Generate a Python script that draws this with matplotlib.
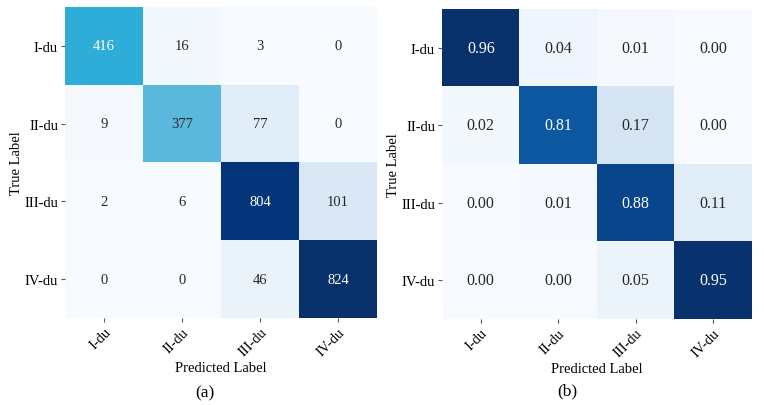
import numpy as np
import matplotlib
matplotlib.use("Agg")
import matplotlib.pyplot as plt
from matplotlib.colors import LinearSegmentedColormap, Normalize

labels = ["I-du", "II-du", "III-du", "IV-du"]
counts = [[416, 16, 3, 0],
          [9, 377, 77, 0],
          [2, 6, 804, 101],
          [0, 0, 46, 824]]
normalized = [[0.96, 0.04, 0.01, 0.00],
              [0.02, 0.81, 0.17, 0.00],
              [0.00, 0.01, 0.88, 0.11],
              [0.00, 0.00, 0.05, 0.95]]

plt.rcParams['font.family'] = ['Liberation Serif', 'DejaVu Serif']

W, H = 764, 406
fig = plt.figure(figsize=(W / 100, H / 100), dpi=100)

def px_axes(x0, x1, ytop, ybot):
    return fig.add_axes([x0 / W, (H - ybot) / H, (x1 - x0) / W, (ybot - ytop) / H])

cmap_a = LinearSegmentedColormap.from_list(
    "a", [(0.0, "#f7fbff"), (0.12, "#dbe9f6"), (0.46, "#5bb8dd"),
          (0.5, "#2eafd9"), (0.97, "#04367d"), (1.0, "#08306b")])
cmap_b = plt.get_cmap("Blues")

def draw(ax, data, cmap, vmax, fmt, fs, light_thr):
    arr = np.array(data, dtype=float)
    norm = Normalize(vmin=0, vmax=vmax)
    n = arr.shape[0]
    ax.imshow(arr, cmap=cmap, norm=norm, aspect='auto', interpolation='nearest')
    for i in range(n):
        for j in range(n):
            v = arr[i, j]
            col = "white" if norm(v) > light_thr else "#262626"
            ax.text(j, i, fmt.format(v), ha='center', va='center', color=col, fontsize=fs)
    ax.set_xticks(range(n))
    ax.set_yticks(range(n))
    ax.set_xticklabels(labels, rotation=45, ha='right', rotation_mode='anchor', fontsize=10.5)
    ax.set_yticklabels(labels, fontsize=10.5)
    ax.tick_params(axis='both', length=3, width=0.8, color='#555555', pad=2)
    for s in ax.spines.values():
        s.set_visible(False)
    ax.set_xlabel("Predicted Label", fontsize=10.5, labelpad=2)
    ax.set_ylabel("True Label", fontsize=10.5, labelpad=1)

ax1 = px_axes(65, 377, 8, 319)
draw(ax1, counts, cmap_a, 824, "{:.0f}", 10.5, 0.48)
ax2 = px_axes(442, 752, 10, 320)
draw(ax2, normalized, cmap_b, 0.96, "{:.2f}", 11.5, 0.6)

fig.text(205 / W, 1 - 393 / H, "(a)", ha='center', va='center', fontsize=12.5)
fig.text(567 / W, 1 - 391 / H, "(b)", ha='center', va='center', fontsize=12.5)

fig.savefig("out.png", dpi=100)
